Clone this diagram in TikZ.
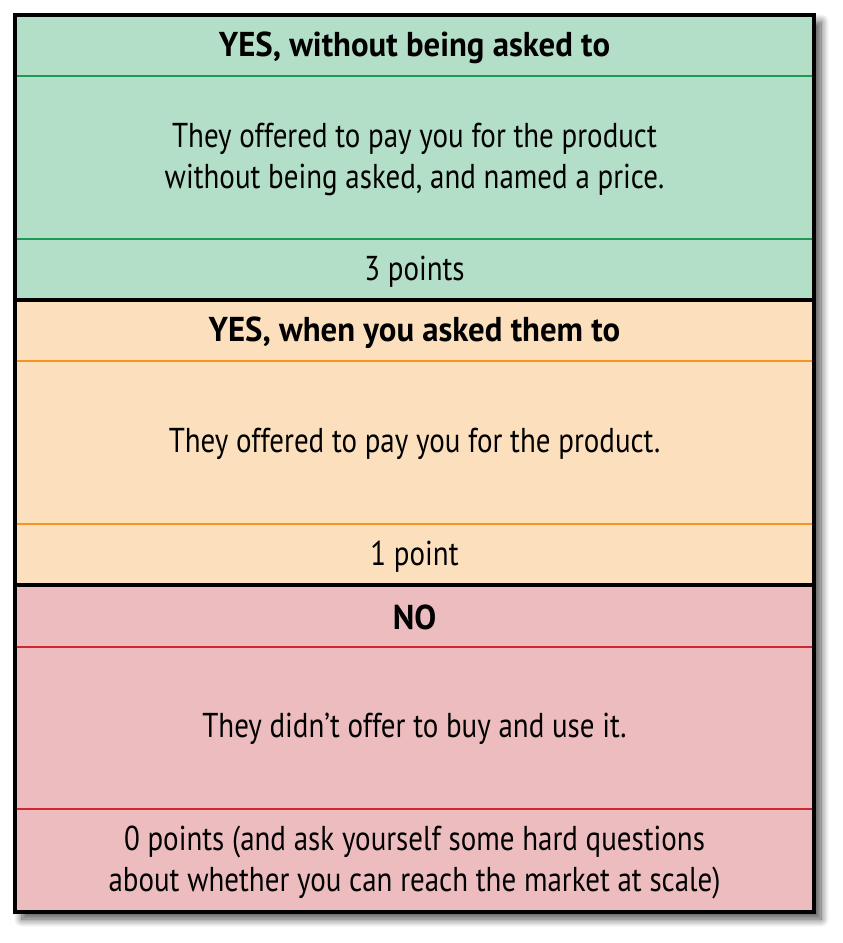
\documentclass[tikz,border=0pt]{standalone}
\usepackage{fontspec}
\setmainfont{PT Sans}[FakeStretch=0.84, BoldFeatures={FakeStretch=0.95}]
\usetikzlibrary{shadows.blur}
\definecolor{gfill}{HTML}{B3DEC7}
\definecolor{gline}{HTML}{1E9A55}
\definecolor{ofill}{HTML}{FCDFBD}
\definecolor{oline}{HTML}{F7941E}
\definecolor{rfill}{HTML}{ECBCBF}
\definecolor{rline}{HTML}{D0262D}
\tikzset{
  txt/.style={font=\fontsize{34.5}{41}\selectfont, align=center, text=black, inner sep=0pt},
  head/.style={txt, font=\fontsize{34.5}{41}\selectfont\bfseries},
  frame/.style={draw=black, line width=4pt},
}
\begin{document}
\begin{tikzpicture}[x=1pt,y=-1pt]
\useasboundingbox (0,0) rectangle (843,943);
% shadow
\path[blur shadow={shadow xshift=7pt, shadow yshift=-7pt, shadow blur radius=8pt, shadow blur steps=12, shadow opacity=70}, fill=white] (15,15) rectangle (814,912);
% fills
\fill[gfill] (15,15) rectangle (814,300);
\fill[ofill] (15,300) rectangle (814,585);
\fill[rfill] (15,585) rectangle (814,912);
% thin dividers
\draw[gline, line width=2pt] (15,76) -- (814,76);
\draw[gline, line width=2pt] (15,239) -- (814,239);
\draw[oline, line width=2pt] (15,361) -- (814,361);
\draw[oline, line width=2pt] (15,524) -- (814,524);
\draw[rline, line width=2pt] (15,647) -- (814,647);
\draw[rline, line width=2pt] (15,809) -- (814,809);
% frame and section borders
\draw[frame] (15,300) -- (814,300);
\draw[frame] (15,585) -- (814,585);
\draw[frame] (15,15) rectangle (814,912);
% texts
\node[head] (h1) at (414.5,47.5) {YES, without being asked to};
\node[txt] (b1) at (414.5,159.5) {They offered to pay you for the product\\without being asked, and named a price.};
\node[txt] (p1) at (414.5,271.5) {3 points};
\node[head] (h2) at (414.5,332.5) {YES, when you asked them to};
\node[txt] (b2) at (414.5,443.5) {They offered to pay you for the product.};
\node[txt] (p2) at (414.5,556.5) {1 point};
\node[head] (h3) at (414.5,617.5) {NO};
\node[txt] (b3) at (414.5,728.5) {They didn’t offer to buy and use it.};
\node[txt] (p3) at (414.5,862.5) {0 points (and ask yourself some hard questions\\about whether you can reach the market at scale)};
\end{tikzpicture}
\end{document}
